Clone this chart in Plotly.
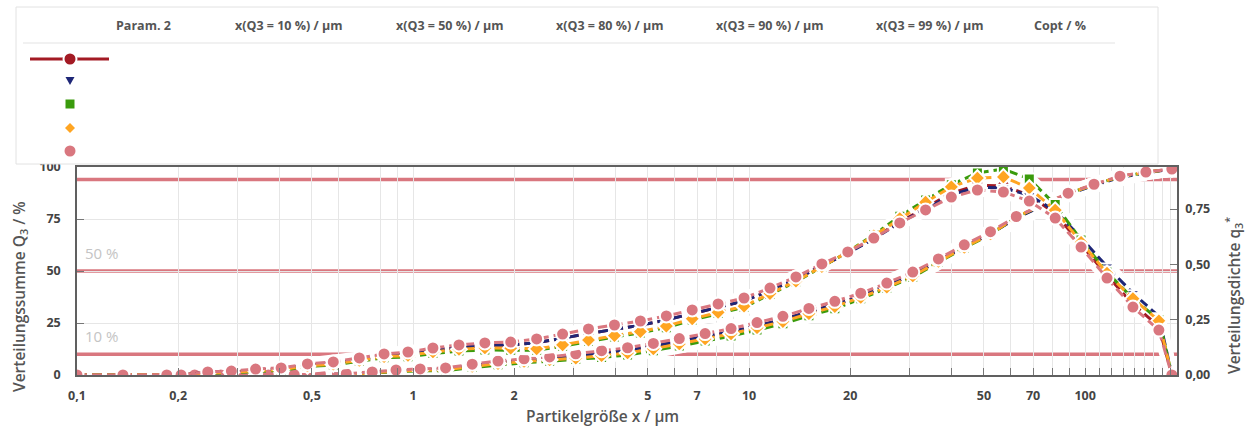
import plotly.graph_objects as go

# ---------------- data ----------------
# cumulative distribution Q3 (left axis, %) at class upper edges
x_Q3 = [0.1, 0.137, 0.185, 0.224, 0.268, 0.311, 0.371, 0.443, 0.53, 0.633, 0.756, 0.89,
        1.05, 1.25, 1.5, 1.79, 2.14, 2.55, 3.05, 3.64, 4.35, 5.19, 6.2, 7.4, 8.84,
        10.56, 12.61, 15.07, 18.0, 21.5, 25.7, 30.7, 36.6, 43.7, 52.3, 62.4, 74.6,
        89.0, 106.3, 127.0, 151.7, 181.2]

Q3_red = [0, 0, 0, 0, 0, 0, 0, 0.1, 0.3, 0.4, 1.2, 2.1, 2.5, 2.9, 4.6, 6.0, 7.1, 7.9, 9.1,
          10.5, 11.9, 13.9, 16.1, 18.4, 20.8, 23.7, 26.7, 30.5, 33.9, 38.0, 43.0, 48.3,
          54.8, 61.6, 68.0, 75.6, 81.5, 87.1, 91.5, 95.4, 97.5, 99.0]
Q3_navy = [0, 0, 0, 0, 0, 0, 0, 0.1, 0.3, 0.4, 1.2, 2.1, 2.5, 2.9, 4.6, 6.0, 7.1, 7.9, 9.1,
           10.5, 11.9, 13.9, 16.1, 18.4, 20.8, 23.6, 26.6, 30.4, 33.8, 37.9, 42.9, 48.2,
           54.7, 61.5, 67.9, 75.4, 81.3, 86.8, 91.1, 95.0, 97.2, 98.9]
Q3_green = [0, 0, 0, 0, 0, 0, 0, 0.0, 0.1, 0.2, 0.9, 1.7, 2.0, 2.1, 3.6, 4.9, 5.9, 6.6, 7.4,
            8.4, 9.6, 11.6, 13.9, 16.3, 18.7, 21.6, 24.6, 28.5, 31.9, 36.6, 41.7, 47.0,
            54.2, 61.1, 67.6, 75.8, 81.7, 87.2, 91.5, 95.3, 97.4, 99.0]
Q3_orange = [0, 0, 0, 0, 0, 0, 0, 0.1, 0.2, 0.3, 1.0, 1.9, 2.3, 2.5, 4.1, 5.5, 6.5, 7.3, 8.1,
             9.3, 10.6, 12.6, 14.9, 17.3, 19.8, 22.7, 25.7, 29.5, 32.9, 37.3, 42.2, 47.6,
             54.6, 61.4, 67.8, 75.9, 81.8, 87.2, 91.5, 95.4, 97.5, 99.0]
Q3_pink = [0, 0, 0, 0, 0, 0, 0, 0.2, 0.5, 0.6, 1.5, 2.4, 2.9, 3.4, 5.2, 6.7, 7.8, 8.7, 10.2,
           11.7, 13.1, 15.2, 17.5, 19.9, 22.3, 25.2, 28.2, 32.0, 35.4, 39.3, 44.2, 49.5,
           55.8, 62.6, 68.9, 76.2, 82.0, 87.4, 91.7, 95.6, 97.6, 99.0]

# density distribution q3* (right axis) at class mid points
x_q3 = [0.204, 0.245, 0.288, 0.34, 0.405, 0.485, 0.579, 0.692, 0.82, 0.966, 1.146, 1.37,
        1.636, 1.953, 2.333, 2.787, 3.328, 3.976, 4.749, 5.673, 6.774, 8.088, 9.662,
        11.54, 13.79, 16.47, 19.67, 23.51, 28.09, 33.52, 39.99, 47.81, 57.13, 68.23,
        81.48, 97.27, 116.2, 138.8, 165.8, 181.2]

q3_red = [0, 0.012, 0.015, 0.023, 0.028, 0.045, 0.053, 0.071, 0.088, 0.095, 0.112, 0.125,
          0.133, 0.136, 0.146, 0.166, 0.188, 0.206, 0.225, 0.249, 0.278, 0.306, 0.334,
          0.382, 0.433, 0.494, 0.552, 0.619, 0.692, 0.756, 0.822, 0.858, 0.855, 0.812,
          0.730, 0.590, 0.450, 0.320, 0.220, 0]
q3_navy = [0, 0.012, 0.015, 0.023, 0.028, 0.045, 0.053, 0.071, 0.088, 0.095, 0.112, 0.125,
           0.133, 0.136, 0.146, 0.166, 0.188, 0.206, 0.225, 0.249, 0.278, 0.306, 0.334,
           0.382, 0.433, 0.494, 0.550, 0.616, 0.688, 0.750, 0.815, 0.848, 0.846, 0.812,
           0.742, 0.620, 0.490, 0.370, 0.265, 0]
q3_green = [0, 0.008, 0.010, 0.017, 0.021, 0.038, 0.045, 0.062, 0.078, 0.082, 0.097, 0.108,
            0.113, 0.112, 0.112, 0.130, 0.152, 0.172, 0.190, 0.214, 0.248, 0.278, 0.306,
            0.364, 0.421, 0.488, 0.556, 0.634, 0.717, 0.791, 0.860, 0.913, 0.931, 0.886,
            0.770, 0.610, 0.465, 0.345, 0.250, 0]
q3_orange = [0, 0.010, 0.012, 0.020, 0.024, 0.041, 0.049, 0.066, 0.083, 0.088, 0.104, 0.116,
             0.122, 0.121, 0.118, 0.136, 0.158, 0.178, 0.196, 0.221, 0.254, 0.283, 0.311,
             0.368, 0.424, 0.490, 0.556, 0.629, 0.707, 0.781, 0.850, 0.890, 0.895, 0.845,
             0.745, 0.600, 0.460, 0.345, 0.245, 0]
q3_pink = [0, 0.014, 0.018, 0.027, 0.032, 0.050, 0.059, 0.077, 0.095, 0.104, 0.122, 0.136,
           0.145, 0.149, 0.163, 0.185, 0.208, 0.226, 0.244, 0.267, 0.294, 0.321, 0.348,
           0.393, 0.443, 0.502, 0.556, 0.619, 0.687, 0.746, 0.804, 0.836, 0.827, 0.786,
           0.709, 0.578, 0.438, 0.307, 0.203, 0]

ref_lines = [10, 50, 94]
ref_labels = {10: "10 %", 50: "50 %"}

x_tickvals = [0.1, 0.2, 0.5, 1, 2, 5, 7, 10, 20, 50, 70, 100]
x_ticktext = ["0,1", "0,2", "0,5", "1", "2", "5", "7", "10", "20", "50", "70", "100"]
x_minor = [0.3, 0.4, 0.6, 0.8, 0.9, 3, 4, 6, 8, 9, 30, 40, 60, 80, 90,
           110, 120, 130, 140, 150, 160, 170, 180]
y_tickvals = [0, 25, 50, 75, 100]
y2_tickvals = [0, 0.25, 0.5, 0.75]
y2_ticktext = ["0,00", "0,25", "0,50", "0,75"]

headers = ["Param. 2", "x(Q3 = 10 %) / μm", "x(Q3 = 50 %) / μm", "x(Q3 = 80 %) / μm",
           "x(Q3 = 90 %) / μm", "x(Q3 = 99 %) / μm", "Copt / %"]
header_x = [143, 288, 449, 609, 769, 929, 1060]

RED, NAVY, GREEN, ORANGE, PINK = "#A31A24", "#1E2677", "#3A9B0C", "#FFA522", "#D9777F"
series = [
    ("red", Q3_red, q3_red, RED, "circle"),
    ("navy", Q3_navy, q3_navy, NAVY, "triangle-down"),
    ("green", Q3_green, q3_green, GREEN, "square"),
    ("orange", Q3_orange, q3_orange, ORANGE, "diamond"),
    ("pink", Q3_pink, q3_pink, PINK, "circle"),
]

# ---------------- layout geometry ----------------
W, H = 1248, 427
L, R, T, B = 77, 1177, 167, 375
XLOG = [-1, 2.2735]


def PX(xp):
    return (xp - L) / (R - L)


def PY(yp):
    return (B - yp) / (B - T)


FONT = "Open Sans"
fig = go.Figure()

# white halos behind the curves (hide reference lines / grid where curves pass)
for name, Q, q, col, sym in series:
    fig.add_trace(go.Scatter(x=x_Q3, y=Q, mode="lines", yaxis="y",
                             line=dict(color="white", width=15),
                             hoverinfo="skip", showlegend=False))
for name, Q, q, col, sym in series:
    fig.add_trace(go.Scatter(x=x_q3[5:], y=q[5:], mode="lines", yaxis="y2",
                             line=dict(color="white", width=13),
                             hoverinfo="skip", showlegend=False))

MS = {"circle": 13, "triangle-down": 12, "square": 11, "diamond": 12}
for name, Q, q, col, sym in series:
    fig.add_trace(go.Scatter(x=x_Q3, y=Q, mode="lines+markers", yaxis="y", name=name,
                             line=dict(color=col, width=3, dash="10px,5px"),
                             marker=dict(symbol=sym, size=MS[sym], color=col,
                                         line=dict(color="white", width=2)),
                             showlegend=False))
for name, Q, q, col, sym in series:
    fig.add_trace(go.Scatter(x=x_q3, y=q, mode="lines+markers", yaxis="y2", name=name,
                             line=dict(color=col, width=3, dash="10px,5px"),
                             marker=dict(symbol=sym, size=MS[sym], color=col,
                                         line=dict(color="white", width=2)),
                             showlegend=False))

shapes = []
for v in ref_lines:
    shapes.append(dict(type="line", xref="x", yref="y", x0=10 ** XLOG[0], x1=10 ** XLOG[1],
                       y0=v, y1=v, line=dict(color=PINK, width=3.5), layer="below"))

# legend table box
shapes.append(dict(type="rect", xref="paper", yref="paper", x0=PX(16), x1=PX(1158),
                   y0=PY(164), y1=PY(7), fillcolor="white",
                   line=dict(color="#e2e2e2", width=1), layer="above"))
shapes.append(dict(type="line", xref="paper", yref="paper", x0=PX(23), x1=PX(1115),
                   y0=PY(43), y1=PY(43), line=dict(color="#ececec", width=1.5), layer="above"))
# legend symbols
shapes.append(dict(type="line", xref="paper", yref="paper", x0=PX(30), x1=PX(109),
                   y0=PY(59), y1=PY(59), line=dict(color=RED, width=3), layer="above"))
shapes.append(dict(type="circle", xref="paper", yref="paper", x0=PX(63.5), x1=PX(76.5),
                   y0=PY(65.5), y1=PY(52.5), fillcolor=RED, line=dict(color="white", width=2),
                   layer="above"))
shapes.append(dict(type="path", xref="paper", yref="paper",
                   path=f"M {PX(65.5)} {PY(77)} L {PX(74.5)} {PY(77)} L {PX(70)} {PY(85)} Z",
                   fillcolor=NAVY, line=dict(width=0), layer="above"))
shapes.append(dict(type="rect", xref="paper", yref="paper", x0=PX(65.5), x1=PX(74.5),
                   y0=PY(108.5), y1=PY(99.5), fillcolor=GREEN, line=dict(width=0),
                   layer="above"))
shapes.append(dict(type="path", xref="paper", yref="paper",
                   path=(f"M {PX(70)} {PY(123)} L {PX(75)} {PY(128)} L {PX(70)} {PY(133)} "
                         f"L {PX(65)} {PY(128)} Z"),
                   fillcolor=ORANGE, line=dict(width=0), layer="above"))
shapes.append(dict(type="circle", xref="paper", yref="paper", x0=PX(64.5), x1=PX(75.5),
                   y0=PY(156.5), y1=PY(145.5), fillcolor=PINK, line=dict(width=0),
                   layer="above"))

annotations = []
for txt, xc in zip(headers, header_x):
    annotations.append(dict(text=txt, xref="paper", yref="paper", x=PX(xc), y=PY(25),
                            xanchor="center", yanchor="middle", showarrow=False,
                            font=dict(family=FONT, size=12.5, color="#555555", weight=700)))
for v, lab in ref_labels.items():
    annotations.append(dict(text=lab, xref="paper", yref="y", x=PX(83), y=v,
                            xanchor="left", yanchor="bottom", yshift=6, showarrow=False,
                            font=dict(family=FONT, size=15, color="#c4c4c4")))
annotations.append(dict(text="Verteilungssumme Q<sub>3</sub> / %", xref="paper", yref="paper",
                        x=PX(19), y=PY(297), textangle=-90, xanchor="center",
                        yanchor="middle", showarrow=False,
                        font=dict(family=FONT, size=15.5, color="#555555", weight=600)))
annotations.append(dict(text="Verteilungsdichte q<sub>3</sub><sup>*</sup>", xref="paper",
                        yref="paper", x=PX(1233), y=PY(296), textangle=-90,
                        xanchor="center", yanchor="middle", showarrow=False,
                        font=dict(family=FONT, size=15.5, color="#555555", weight=600)))
annotations.append(dict(text="Partikelgröße x / µm", xref="paper", yref="paper",
                        x=PX(602), y=PY(416), xanchor="center", yanchor="middle",
                        showarrow=False,
                        font=dict(family=FONT, size=15.5, color="#555555", weight=600)))

tickfont = dict(family=FONT, size=12.5, color="#444444", weight=700)
GRID = "#e6e6e6"
AX = "#606060"

fig.update_layout(
    width=W, height=H,
    margin=dict(l=L, r=W - R, t=T, b=H - B, pad=0),
    paper_bgcolor="white", plot_bgcolor="white",
    showlegend=False,
    xaxis=dict(type="log", range=XLOG, tickvals=x_tickvals, ticktext=x_ticktext,
               tickfont=tickfont, ticks="inside", ticklen=7, tickcolor="#777777",
               showgrid=True, gridcolor=GRID, gridwidth=1,
               showline=True, linecolor=AX, linewidth=1.5, mirror=True,
               zeroline=False, ticklabelstandoff=8,
               minor=dict(tickvals=x_minor, ticks="inside", ticklen=7,
                          tickcolor="#777777", showgrid=True, gridcolor=GRID)),
    yaxis=dict(range=[0, 100], tickvals=y_tickvals, tickfont=tickfont,
               ticks="inside", ticklen=7, tickcolor="#777777",
               showgrid=True, gridcolor=GRID, showline=True, linecolor=AX, linewidth=1.5,
               zeroline=False, ticklabelstandoff=12),
    yaxis2=dict(range=[0, 0.94], overlaying="y", side="right", tickvals=y2_tickvals,
                ticktext=y2_ticktext, tickfont=tickfont, ticks="inside", ticklen=7,
                tickcolor="#777777", showgrid=False, showline=True, linecolor=AX,
                linewidth=1.5, zeroline=False, ticklabelstandoff=4),
    shapes=shapes,
    annotations=annotations,
)

fig.write_html("out.html")
